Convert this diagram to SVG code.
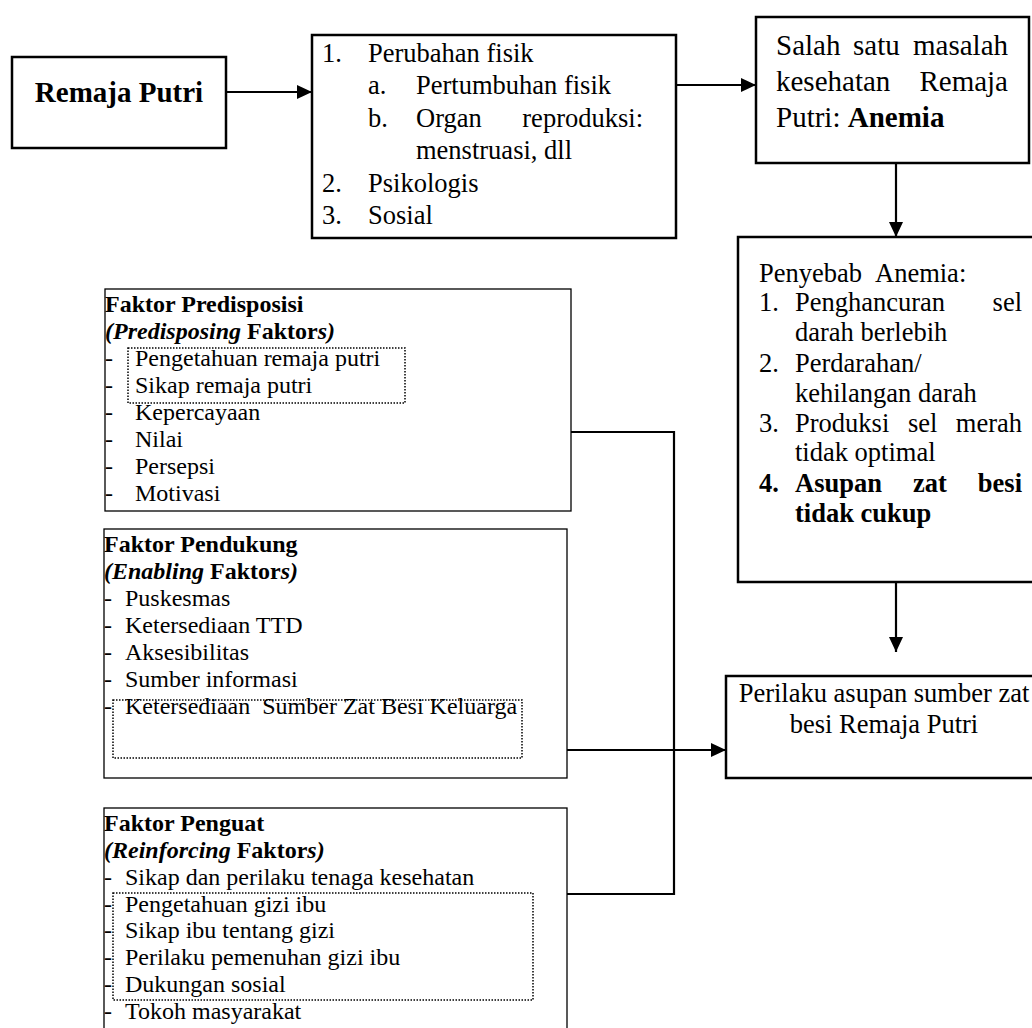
<svg xmlns="http://www.w3.org/2000/svg" width="1032" height="1028" viewBox="0 0 1032 1028">
<defs>
<marker id="arr" markerUnits="userSpaceOnUse" markerWidth="16" markerHeight="16" refX="15" refY="7" orient="auto"><path d="M0,0 L15,7 L0,14 Z" fill="#000"/></marker>
</defs>
<style>
text { font-family: "Liberation Serif", "Times New Roman", serif; fill:#000; }
.t26 { font-size: 26.5px; }
.t29 { font-size: 29px; }
.t24 { font-size: 24px; }
.b { font-weight: bold; }
.i { font-style: italic; }
.box { fill: #fff; stroke: #000; stroke-width: 2.5; }
.fbox { fill: #fff; stroke: #000; stroke-width: 1.3; }
.dot { fill: none; stroke: #000; stroke-width: 1.5; stroke-dasharray: 1.5 1.5; }
.conn { fill: none; stroke: #000; stroke-width: 2.2; }
</style>
<rect x="0" y="0" width="1032" height="1028" fill="#fff"/>

<g id="remaja-putri">
<rect class="box" x="12" y="57" width="214" height="91"/>
<text class="t29 b" x="119" y="102" text-anchor="middle">Remaja Putri</text>
</g>

<g id="perubahan">
<rect class="box" x="312" y="35" width="364" height="203"/>
<g class="t26">
<text x="322" y="62">1.</text><text x="368" y="62">Perubahan fisik</text>
<text x="368" y="94">a.</text><text x="416" y="94">Pertumbuhan fisik</text>
<text x="368" y="127">b.</text><text x="416" y="127">Organ</text><text x="643" y="127" text-anchor="end">reproduksi:</text>
<text x="416" y="159">menstruasi, dll</text>
<text x="322" y="192">2.</text><text x="368" y="192">Psikologis</text>
<text x="322" y="224">3.</text><text x="368" y="224">Sosial</text>
</g>
</g>

<g id="masalah">
<rect class="box" x="756" y="17" width="273" height="146"/>
<g class="t29">
<text x="776" y="55">Salah</text><text x="853" y="55">satu</text><text x="1008" y="55" text-anchor="end">masalah</text>
<text x="776" y="91">kesehatan</text><text x="1008" y="91" text-anchor="end">Remaja</text>
<text x="776" y="127">Putri: <tspan class="b">Anemia</tspan></text>
</g>
</g>

<g id="penyebab">
<rect class="box" x="738" y="237" width="310" height="345"/>
<g class="t26">
<text x="759" y="282">Penyebab</text><text x="875" y="282">Anemia:</text>
<text x="759" y="311">1.</text><text x="795" y="311">Penghancuran</text><text x="1022" y="311" text-anchor="end">sel</text>
<text x="795" y="341">darah berlebih</text>
<text x="759" y="372">2.</text><text x="795" y="372">Perdarahan/</text>
<text x="795" y="402">kehilangan darah</text>
<text x="759" y="432">3.</text><text x="795" y="432">Produksi</text><text x="908" y="432">sel</text><text x="1022" y="432" text-anchor="end">merah</text>
<text x="795" y="461">tidak optimal</text>
<text class="b" x="759" y="492">4.</text><text class="b" x="795" y="492">Asupan</text><text class="b" x="913" y="492">zat</text><text class="b" x="1022" y="492" text-anchor="end">besi</text>
<text class="b" x="795" y="522">tidak cukup</text>
</g>
</g>

<g id="perilaku">
<rect class="box" x="726" y="676" width="320" height="102"/>
<g class="t26">
<text x="884" y="702" text-anchor="middle">Perilaku asupan sumber zat</text>
<text x="884" y="733" text-anchor="middle">besi Remaja Putri</text>
</g>
</g>

<g id="faktor-predisposisi">
<rect class="fbox" x="105" y="289" width="466" height="222"/>
<rect class="dot" x="128" y="348" width="277" height="55"/>
<g class="t24">
<text class="b" x="105" y="312">Faktor Predisposisi</text>
<text class="b" x="105" y="339"><tspan class="i">(Predisposing</tspan> Faktor<tspan class="i">s)</tspan></text>
<text x="105" y="366">-</text><text x="135" y="366">Pengetahuan remaja putri</text>
<text x="105" y="393">-</text><text x="135" y="393">Sikap remaja putri</text>
<text x="105" y="420">-</text><text x="135" y="420">Kepercayaan</text>
<text x="105" y="447">-</text><text x="135" y="447">Nilai</text>
<text x="105" y="474">-</text><text x="135" y="474">Persepsi</text>
<text x="105" y="501">-</text><text x="135" y="501">Motivasi</text>
</g>
</g>

<g id="faktor-pendukung">
<rect class="fbox" x="104" y="529" width="463" height="249"/>
<rect class="dot" x="113" y="700" width="409" height="58"/>
<g class="t24">
<text class="b" x="104" y="552">Faktor Pendukung</text>
<text class="b" x="104" y="579"><tspan class="i">(Enabling</tspan> Faktor<tspan class="i">s)</tspan></text>
<text x="104" y="606">-</text><text x="125" y="606">Puskesmas</text>
<text x="104" y="633">-</text><text x="125" y="633">Ketersediaan TTD</text>
<text x="104" y="660">-</text><text x="125" y="660">Aksesibilitas</text>
<text x="104" y="687">-</text><text x="125" y="687">Sumber informasi</text>
<text x="104" y="714">-</text><text x="125" y="714" xml:space="preserve">Ketersediaan  Sumber Zat Besi Keluarga</text>
</g>
</g>

<g id="faktor-penguat">
<rect class="fbox" x="104" y="808" width="463" height="240"/>
<rect class="dot" x="113" y="893" width="420" height="107"/>
<g class="t24">
<text class="b" x="104" y="831">Faktor Penguat</text>
<text class="b" x="104" y="858"><tspan class="i">(Reinforcing</tspan> Faktor<tspan class="i">s)</tspan></text>
<text x="104" y="885">-</text><text x="125" y="885">Sikap dan perilaku tenaga kesehatan</text>
<text x="104" y="912">-</text><text x="125" y="912">Pengetahuan gizi ibu</text>
<text x="104" y="938">-</text><text x="125" y="938">Sikap ibu tentang gizi</text>
<text x="104" y="965">-</text><text x="125" y="965">Perilaku pemenuhan gizi ibu</text>
<text x="104" y="992">-</text><text x="125" y="992">Dukungan sosial</text>
<text x="104" y="1019">-</text><text x="125" y="1019">Tokoh masyarakat</text>
</g>
</g>

<g id="connectors">
<path class="conn" d="M226,92 H312" marker-end="url(#arr)"/>
<path class="conn" d="M676,85 H756" marker-end="url(#arr)"/>
<path class="conn" d="M896,163 V237" marker-end="url(#arr)"/>
<path class="conn" d="M896,582 V652" marker-end="url(#arr)"/>
<path class="conn" d="M571,432 H674 V894 H567"/>
<path class="conn" d="M567,750 H726" marker-end="url(#arr)"/>
</g>
</svg>
